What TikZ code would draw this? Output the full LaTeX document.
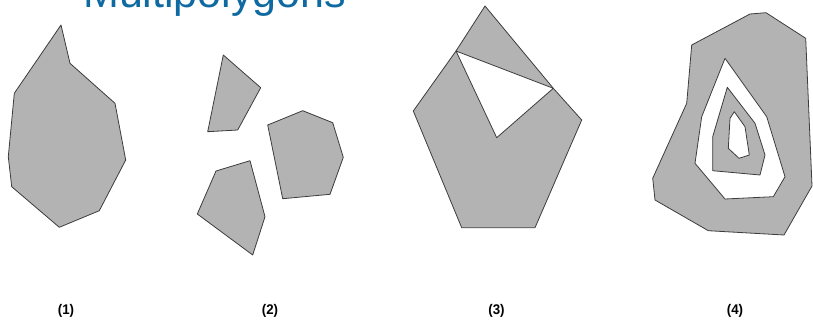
\documentclass[tikz,border=0pt]{standalone}
\usepackage{fontspec}
\setmainfont{Liberation Sans}
\definecolor{polyfill}{RGB}{179,179,179}
\definecolor{polyline}{RGB}{60,60,60}
\definecolor{titleblue}{RGB}{14,106,160}
\begin{document}
\begin{tikzpicture}[x=1pt,y=-1pt,
  poly/.style={fill=polyfill,draw=polyline,line width=0.8pt,line join=round},
  hole/.style={fill=white,draw=polyline,line width=0.8pt,line join=round},
  lbl/.style={font=\bfseries\fontsize{14}{14}\selectfont,inner sep=0pt,xscale=0.95}]
\useasboundingbox (0,0) rectangle (813,324);
% title (mostly cut off, as in the reference)
\node[anchor=base west,inner sep=0pt,text=titleblue,font=\fontsize{43}{43}\selectfont] (title) at (83,8) {Multipolygons};
% (1)
\draw[poly] (61,25) -- (70,63.3) -- (115,103.3) -- (125.7,160) -- (99.3,210.7) -- (59.3,227.3)
  -- (11.7,186.7) -- (8.3,156.7) -- (14.3,93.3) -- cycle;
% (2)
\draw[poly] (223.3,55) -- (260.7,87.7) -- (237.7,130) -- (207.7,131.7) -- cycle;
\draw[poly] (267.7,125) -- (302.7,110.7) -- (332.7,122.7) -- (343.3,157.3) -- (330,194.3) -- (282.7,198.7) -- cycle;
\draw[poly] (250,160.7) -- (265,216.7) -- (252.7,255) -- (197.3,214) -- (216,171) -- cycle;
% (3)
\draw[poly] (485,6) -- (553.3,88.3) -- (581.7,120) -- (535,227.7) -- (461.7,227.7) -- (413.3,111) -- (456,51) -- cycle;
\draw[hole] (456,51) -- (553.3,88.3) -- (496.7,137.7) -- cycle;
% (4)
\draw[poly] (691.7,45) -- (750,14) -- (766,12.7) -- (805.7,38.3) -- (812,186) -- (784,235) -- (708.3,230.7)
  -- (655,200) -- (652.7,178.3) -- (686.7,103.3) -- cycle;
\draw[hole] (725,58.3) -- (766.7,116.7) -- (785,176.7) -- (773.3,196.7) -- (725,199) -- (695,163.3) -- (701.7,116.7) -- cycle;
\draw[poly] (727.3,87.3) -- (755,123.3) -- (765,155) -- (760,175) -- (712.7,170.7) -- (712.7,136.7) -- cycle;
\draw[hole] (734.3,111.7) -- (745,126.7) -- (749.3,155) -- (739,158.3) -- (728.3,148.3) -- (730,118.3) -- cycle;
% labels
\node[lbl] (l1) at (66,311) {(1)};
\node[lbl] (l2) at (270,311) {(2)};
\node[lbl] (l3) at (496.5,311) {(3)};
\node[lbl] (l4) at (735,311) {(4)};
\end{tikzpicture}
\end{document}
